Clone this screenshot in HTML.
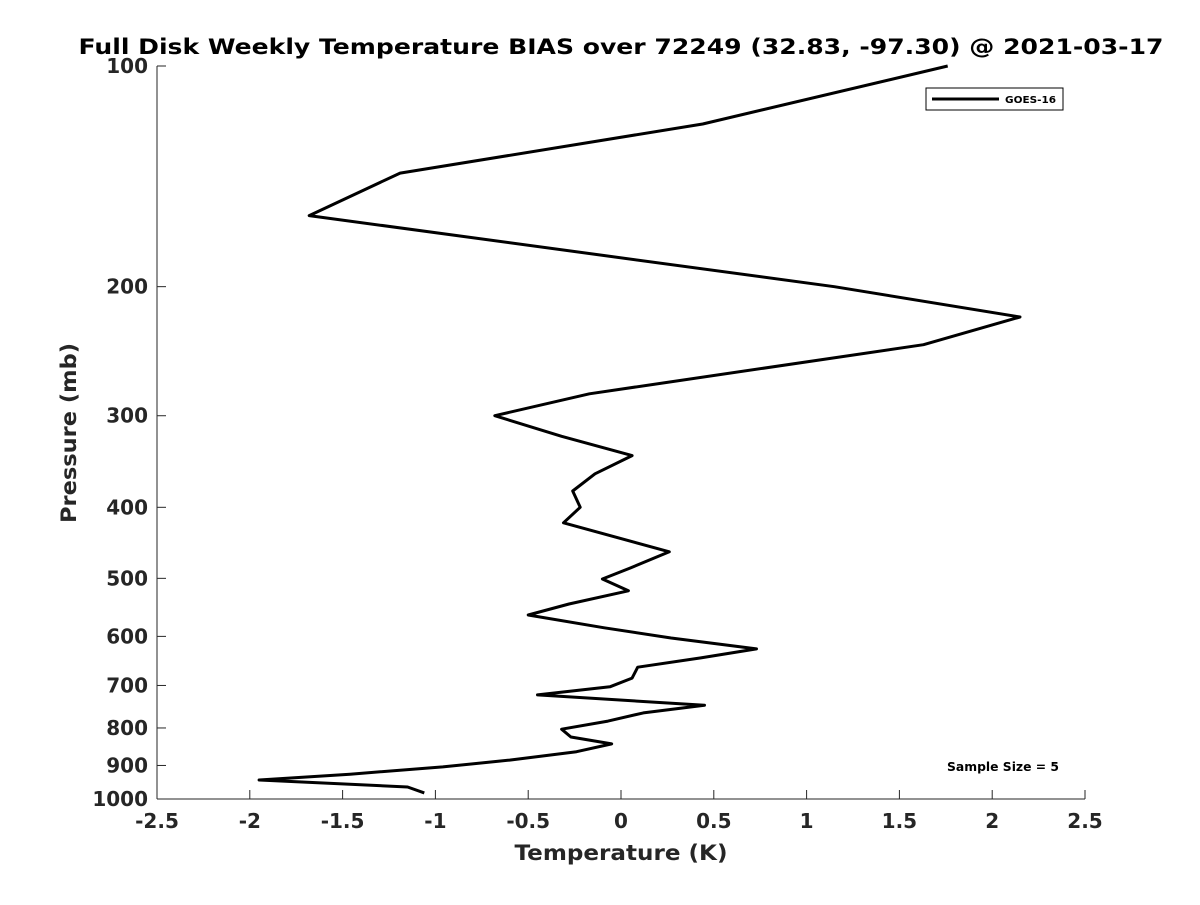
<!DOCTYPE html>
<html><head><meta charset="utf-8"><style>
body{margin:0;background:#fff;}
svg text{font-family:"DejaVu Sans","Liberation Sans",sans-serif;font-weight:bold;fill:#262626;}
</style></head><body>
<svg id="chart" width="1200" height="900">
<rect width="1200" height="900" fill="#fff"/>
<text x="621" y="54" text-anchor="middle" font-size="21" textLength="1085" lengthAdjust="spacingAndGlyphs" style="fill:#000">Full Disk Weekly Temperature BIAS over 72249 (32.83, -97.30) @ 2021-03-17</text>
<g id="axes"></g>
<path id="line" fill="none" stroke="#000" stroke-width="3" stroke-linejoin="round"/>
<g>
<rect x="926" y="88" width="137" height="22" fill="#fff" stroke="#000" stroke-width="1"/>
<line x1="932" y1="99" x2="999" y2="99" stroke="#000" stroke-width="3"/>
<text x="1005" y="103" font-size="10" textLength="51" lengthAdjust="spacingAndGlyphs" style="fill:#000">GOES-16</text>
</g>
<text x="947" y="771" font-size="12" textLength="112" lengthAdjust="spacingAndGlyphs" style="fill:#000">Sample Size = 5</text>
<text x="621" y="860" text-anchor="middle" font-size="21" textLength="213" lengthAdjust="spacingAndGlyphs">Temperature (K)</text>
<text transform="translate(76,433) rotate(-90)" text-anchor="middle" font-size="21" textLength="180" lengthAdjust="spacingAndGlyphs">Pressure (mb)</text>
</svg>
<script>
const temps=[1.76,0.44,-1.19,-1.68,1.15,2.15,1.63,-0.17,-0.68,-0.32,0.06,-0.14,-0.26,-0.22,-0.31,0.26,0.05,-0.10,0.04,-0.28,-0.5,-0.09,0.27,0.73,0.43,0.09,0.06,-0.06,-0.45,0.45,0.12,-0.07,-0.32,-0.27,-0.05,-0.24,-0.60,-0.96,-1.46,-1.95,-1.15,-1.06];
const pressures=[100,120,140,160,200,220,240,280,300,320,340,360,380,400,420,460,484,501,520,542,561,584,603,624,642,661,684,703,721,745,763,783,803,823,841,862,885,904,925,942,963,981];
const xTicks=[-2.5,-2,-1.5,-1,-0.5,0,0.5,1,1.5,2,2.5];
const yTicks=[100,200,300,400,500,600,700,800,900,1000];
const L=157,R=1085,T=66,B=799;
const xs=v=>L+(v+2.5)/5*(R-L);
const ys=p=>T+Math.log10(p/100)*(B-T);
const NS="http://www.w3.org/2000/svg";
const g=document.getElementById('axes');
function mk(t,a){const e=document.createElementNS(NS,t);for(const k in a)e.setAttribute(k,a[k]);g.appendChild(e);return e;}
let ax=mk('line',{x1:L,y1:B,x2:R,y2:B,stroke:'#262626','stroke-width':1});


let ay=mk('line',{x1:L,y1:T,x2:L,y2:B,stroke:'#262626','stroke-width':1});


xTicks.forEach(v=>{const x=xs(v);
mk('line',{x1:x,y1:B,x2:x,y2:B-9,stroke:'#262626'});
const t=mk('text',{x:x,y:B+29,'text-anchor':'middle','font-size':20});t.textContent=String(v);

});
yTicks.forEach(p=>{const y=ys(p);
mk('line',{x1:L,y1:y,x2:L+9,y2:y,stroke:'#262626'});
const t=mk('text',{x:L-9,y:y+7,'text-anchor':'end','font-size':20});t.textContent=String(p);

});
document.getElementById('line').setAttribute('d',temps.map((v,i)=>(i?'L':'M')+xs(v).toFixed(1)+' '+ys(pressures[i]).toFixed(1)).join(' '));
</script>
</body></html>
